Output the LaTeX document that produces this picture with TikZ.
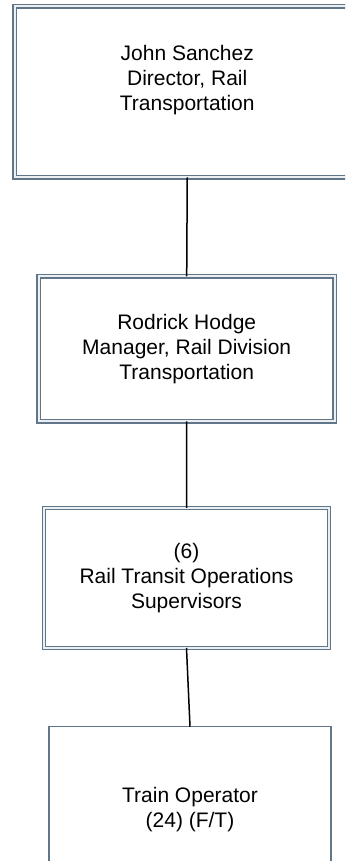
\documentclass[tikz,border=0pt]{standalone}
\usepackage{fontspec}
\setmainfont{Liberation Sans}
\usetikzlibrary{positioning}
\definecolor{boxline}{RGB}{98,118,138}
\tikzset{
  every node/.style={
    font=\fontsize{21}{25}\selectfont,
    align=center,
    inner sep=0pt,
    outer sep=0pt
  },
  dbox/.style={
    draw=boxline,
    double=boxline!12,
    double distance=2pt,
    line width=1.4pt
  },
  sbox/.style={
    draw=boxline,
    line width=1.4pt
  },
  link/.style={
    black,
    line width=1.5pt
  }
}

\begin{document}
\begin{tikzpicture}[x=1pt,y=1pt]
    \useasboundingbox (0,0) rectangle (345,861);
    \clip (0,0) rectangle (345,861);

    % Kaesten
    \node[dbox,minimum width=345.5,minimum height=171] (dir) at (187.25,769) {};
    \node (dirtext) at (187.25,781) {John Sanchez\\Director, Rail\\Transportation};
    \node[dbox,minimum width=296,minimum height=145] (mgr) at (186.7,512)
        {Rodrick Hodge\\Manager, Rail Division\\Transportation};
    \node[dbox,minimum width=285,minimum height=140] (sup) at (186.5,283)
        {(6)\\Rail Transit Operations\\Supervisors};
    \node[sbox,minimum width=282,minimum height=166.6] (op) at (190,51)
        {Train Operator\\(24) (F/T)};

    % Linien
    \draw[link] (dir.south) -- (mgr.north);
    \draw[link] (mgr.south) -- (sup.north);
    \draw[link] (sup.south) -- (op.north);
\end{tikzpicture}
\end{document}
